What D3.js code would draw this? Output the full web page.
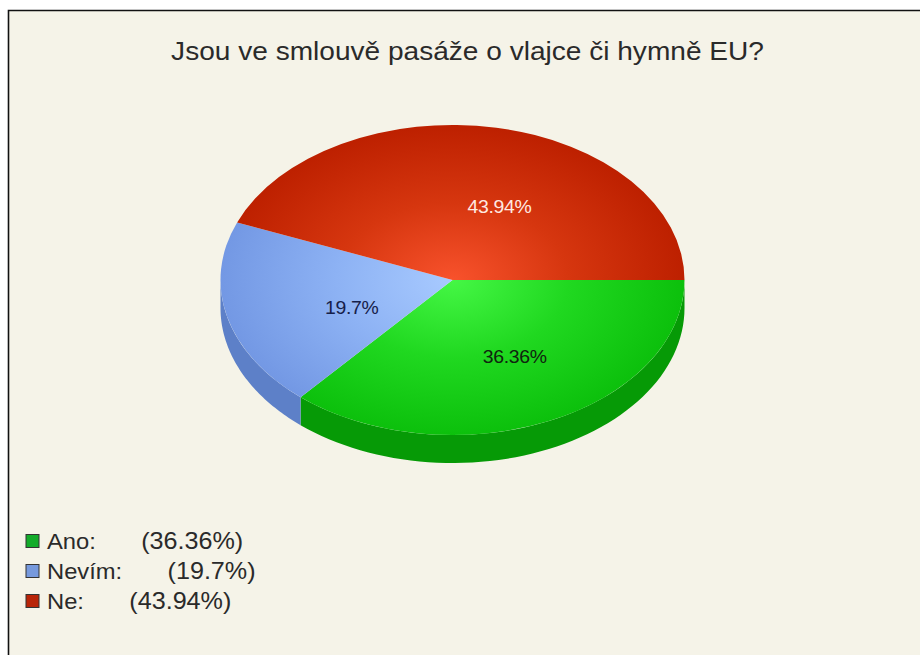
<!DOCTYPE html>
<html>
<head>
<meta charset="utf-8">
<script src="https://cdn.jsdelivr.net/npm/d3@7"></script>
<style>
html, body { margin: 0; padding: 0; background: #fff; }
svg { display: block; }
text { font-family: "Liberation Sans", Arial, sans-serif; }
</style>
</head>
<body>
<div id="chart"></div>
<script>
// values
var chartTitle = "Jsou ve smlouvě pasáže o vlajce či hymně EU?";
var categories = ["Ano", "Nevím", "Ne"];
var percents = [36.36, 19.7, 43.94];

// colours per slice: centre, middle and rim of the top, side wall
var centreColors = ["#45f745", "#a8caff", "#f8522c"];
var midColors = ["#20d820", "#8db2f4", "#d6360f"];
var rimColors = ["#0cc00c", "#7398e4", "#bd2000"];
var wallColors = ["#069a06", "#5d80c8", "#8f1500"];
var swatchColors = ["#13ab2a", "#7699dd", "#b82408"];
var labelColors = ["#10240f", "#16204a", "#ffe9e0"];
// the chart library placed labels a little off the centroid
var labelNudgeX = [14, 12, 25];
var labelNudgeY = [7, 10, 3];

var width = 920, height = 655;
var cx = 452.5, cy = 280, rx = 232, ry = 155, depth = 28;
// the source screenshot was stretched sideways, text included
var stretch = 1.08;

var svg = d3.select("#chart").append("svg")
    .attr("width", width)
    .attr("height", height);

// page background + frame, open on the right and at the bottom
svg.append("rect")
    .attr("x", 9).attr("y", 11)
    .attr("width", width).attr("height", height)
    .attr("fill", "#f5f3e8");
svg.append("path")
    .attr("d", d3.line()([[8.5, height], [8.5, 10.5], [width, 10.5]]))
    .attr("fill", "none")
    .attr("stroke", "#111")
    .attr("stroke-width", 1.6);

svg.append("text")
    .attr("transform", "translate(467.5,60) scale(" + stretch + ",1)")
    .attr("text-anchor", "middle")
    .attr("font-size", 26)
    .attr("fill", "#2a2a2a")
    .text(chartTitle);

// d3 angles start at 12 o'clock, the pie starts at 3 o'clock
var pie = d3.pie()
    .sort(null)
    .startAngle(Math.PI / 2)
    .endAngle(Math.PI / 2 + 2 * Math.PI);
var slices = pie(percents);

var defs = svg.append("defs");
categories.forEach(function (c, i) {
    var g = defs.append("radialGradient")
        .attr("id", "top" + i)
        .attr("gradientUnits", "userSpaceOnUse")
        .attr("cx", 0).attr("cy", 0).attr("r", rx);
    g.append("stop").attr("offset", 0).attr("stop-color", centreColors[i]);
    g.append("stop").attr("offset", 0.5).attr("stop-color", midColors[i]);
    g.append("stop").attr("offset", 1).attr("stop-color", rimColors[i]);
});

var arc = d3.arc().innerRadius(0).outerRadius(rx);
var yScale = d3.scaleLinear().domain([0, rx]).range([0, ry]);

// side wall: only the part of a slice that faces the viewer
var wallPath = function (d) {
    var from = Math.max(d.startAngle, Math.PI / 2);
    var to = Math.min(d.endAngle, 3 * Math.PI / 2);
    if (to <= from) return null;
    var steps = d3.range(0, 61).map(function (k) {
        var a = from + (to - from) * k / 60;
        return [rx * Math.sin(a), -yScale(rx) * Math.cos(a)];
    });
    var lower = steps.slice().reverse().map(function (p) {
        return [p[0], p[1] + depth];
    });
    return d3.line()(steps.concat(lower)) + "Z";
};

var pieG = svg.append("g")
    .attr("transform", "translate(" + cx + "," + cy + ")");

pieG.selectAll("path.wall")
    .data(slices)
    .enter()
    .append("path")
    .attr("class", "wall")
    .attr("d", wallPath)
    .attr("fill", function (d, i) { return wallColors[i]; });

pieG.append("g")
    .attr("transform", "scale(1," + (ry / rx) + ")")
    .selectAll("path.top")
    .data(slices)
    .enter()
    .append("path")
    .attr("class", "top")
    .attr("d", arc)
    .attr("fill", function (d, i) { return "url(#top" + i + ")"; });

// slice labels
pieG.selectAll("text.slice")
    .data(slices)
    .enter()
    .append("text")
    .attr("class", "slice")
    .attr("transform", function (d, i) {
        var c = arc.centroid(d);
        return "translate(" + (c[0] + labelNudgeX[i]) + "," + (yScale(c[1]) + labelNudgeY[i] + 6) + ") scale(" + stretch + ",1)";
    })
    .attr("text-anchor", "middle")
    .attr("font-size", 18)
    .attr("letter-spacing", -0.3)
    .attr("fill", function (d, i) { return labelColors[i]; })
    .text(function (d, i) { return percents[i] + "%"; });

// legend
var legendY = d3.scalePoint().domain(categories).range([541, 601]);
var legend = svg.selectAll("g.legend")
    .data(categories)
    .enter()
    .append("g")
    .attr("class", "legend")
    .attr("transform", function (d) { return "translate(26," + legendY(d) + ")"; });

legend.append("rect")
    .attr("x", 0).attr("y", -6.5)
    .attr("width", 13).attr("height", 13)
    .attr("stroke", "#333")
    .attr("fill", function (d, i) { return swatchColors[i]; });

var legendText = legend.append("text")
    .attr("transform", "translate(21,7.5) scale(" + stretch + ",1)")
    .attr("font-size", 22)
    .attr("fill", "#2a2a2a")
    .text(function (d) { return d + ":"; });
legendText.append("tspan")
    .attr("dx", 42)
    .attr("font-size", 23.3)
    .text(function (d, i) { return "(" + percents[i] + "%)"; });
</script>
</body>
</html>
